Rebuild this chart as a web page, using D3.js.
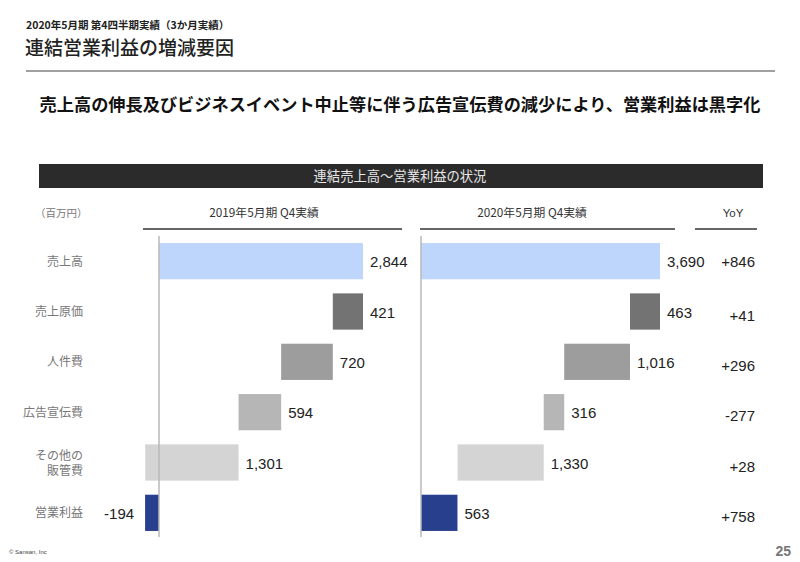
<!DOCTYPE html>
<html><head><meta charset="utf-8">
<script src="https://cdn.jsdelivr.net/npm/d3@7"></script>
<style>
html,body{margin:0;padding:0;background:#fff;}
svg{display:block;}
</style></head>
<body><svg id="c" width="800" height="562"></svg>
<script>
const categories = ["売上高","売上原価","人件費","広告宣伝費","その他の\n販管費","営業利益"];
const kinds = ["total","cost","cost","cost","cost","result"];
const values2019 = [2844,421,720,594,1301,-194];
const values2020 = [3690,463,1016,316,1330,563];
const yoyLabels = ["+846","+41","+296","-277","+28","+758"];
const periodLabels = ["2019年5月期 Q4実績","2020年5月期 Q4実績"];
const colors = ["#bed6fb","#737373","#9d9d9d","#b6b6b6","#d4d4d4","#283f8e"];

const JP = "'Noto Sans CJK JP','Noto Sans',sans-serif";
const NUM = "'Liberation Sans',Arial,sans-serif";
const svg = d3.select("#c");

// header texts
svg.append("text").attr("x",26).attr("y",29).attr("font-family",JP).attr("font-size",10.5).attr("font-weight",700).attr("fill","#222").text("2020年5月期 第4四半期実績（3か月実績）");
svg.append("text").attr("x",25).attr("y",55).attr("font-family",JP).attr("font-size",19).attr("font-weight",500).attr("fill","#222").text("連結営業利益の増減要因");
svg.append("rect").attr("x",26).attr("y",70).attr("width",749).attr("height",2).attr("fill","#a0a0a0");
svg.append("text").attr("x",400).attr("y",111).attr("text-anchor","middle").attr("font-family",JP).attr("font-size",17.2).attr("font-weight",700).attr("fill","#111").text("売上高の伸長及びビジネスイベント中止等に伴う広告宣伝費の減少により、営業利益は黒字化");

// dark band
svg.append("rect").attr("x",39).attr("y",164).attr("width",724).attr("height",24).attr("fill","#2b2b2b");
svg.append("text").attr("x",400).attr("y",181).attr("text-anchor","middle").attr("font-family",JP).attr("font-size",13.3).attr("fill","#e8e8e8").text("連結売上高～営業利益の状況");

svg.append("text").attr("x",35).attr("y",217).attr("font-family",JP).attr("font-size",10.5).attr("fill","#777").text("（百万円）");

// rows
const y = d3.scaleBand().domain(d3.range(categories.length)).range([236,538]).paddingInner(0.28).paddingOuter(0.14);

// category labels
categories.forEach((c,i)=>{
  const lines = c.split("\n");
  const cy = y(i)+y.bandwidth()/2;
  const t = svg.append("text").attr("text-anchor","end").attr("font-family",JP).attr("font-size",12).attr("fill","#777");
  lines.forEach((l,j)=>{
    t.append("tspan").attr("x",83).attr("y",cy+4.5+(j-(lines.length-1)/2)*15).text(l);
  });
});

function waterfall(vals){
  const out=[]; let run=0;
  vals.forEach((v,i)=>{
    if(kinds[i]==="total"){ out.push([0,v]); run=v; }
    else if(kinds[i]==="cost"){ out.push([run-v,run]); run-=v; }
    else { out.push([Math.min(0,v),Math.max(0,v)]); }
  });
  return out;
}

const panels = [
  {vals:values2019, x:d3.scaleLinear().domain([0,values2019[0]]).range([159,363]), head:periodLabels[0], hx:[143,402], hc:264},
  {vals:values2020, x:d3.scaleLinear().domain([0,values2020[0]]).range([421,660]), head:periodLabels[1], hx:[420,675], hc:532}
];

panels.forEach(p=>{
  const g = svg.append("g");
  g.append("text").attr("x",p.hc).attr("y",217).attr("text-anchor","middle").attr("font-family",JP).attr("font-size",11.8).attr("fill","#333").text(p.head);
  g.append("line").attr("x1",p.hx[0]).attr("x2",p.hx[1]).attr("y1",229).attr("y2",229).attr("stroke","#333").attr("stroke-width",1.5);
  const wf = waterfall(p.vals);
  g.selectAll("rect.bar").data(wf).enter().append("rect").attr("class","bar")
    .attr("x",d=>p.x(d[0])).attr("width",d=>p.x(d[1])-p.x(d[0]))
    .attr("y",(d,i)=>y(i)).attr("height",y.bandwidth())
    .attr("fill",(d,i)=>colors[i]);
  g.append("line").attr("x1",p.x(0)).attr("x2",p.x(0)).attr("y1",236).attr("y2",537).attr("stroke","#b8b8b8").attr("stroke-width",1.5);
  g.selectAll("text.val").data(wf).enter().append("text").attr("class","val")
    .attr("font-family",NUM).attr("font-size",15).attr("fill","#222")
    .attr("x",(d,i)=>p.vals[i]<0 ? p.x(d[0])-11 : p.x(d[1])+7)
    .attr("text-anchor",(d,i)=>p.vals[i]<0?"end":"start")
    .attr("y",(d,i)=>y(i)+y.bandwidth()/2+6)
    .text((d,i)=>d3.format(",")(p.vals[i]).replace("−","-"));
});

// YoY column
svg.append("text").attr("x",733).attr("y",217).attr("text-anchor","middle").attr("font-family",NUM).attr("font-size",11.5).attr("fill","#333").text("YoY");
svg.append("line").attr("x1",695).attr("x2",757).attr("y1",229).attr("y2",229).attr("stroke","#333").attr("stroke-width",1.5);
yoyLabels.forEach((l,i)=>{
  svg.append("text").attr("x",755).attr("y",y(i)+y.bandwidth()/2+6+(i>0?3:0)).attr("text-anchor","end")
    .attr("font-family",NUM).attr("font-size",15).attr("fill","#222").text(l);
});

// footer
svg.append("text").attr("x",9).attr("y",554).attr("font-family",NUM).attr("font-size",6).attr("fill","#444").text("© Sansan, Inc");
svg.append("text").attr("x",791).attr("y",556).attr("text-anchor","end").attr("font-family",NUM).attr("font-size",14).attr("font-weight",700).attr("fill","#777").text("25");
</script>
</body></html>
